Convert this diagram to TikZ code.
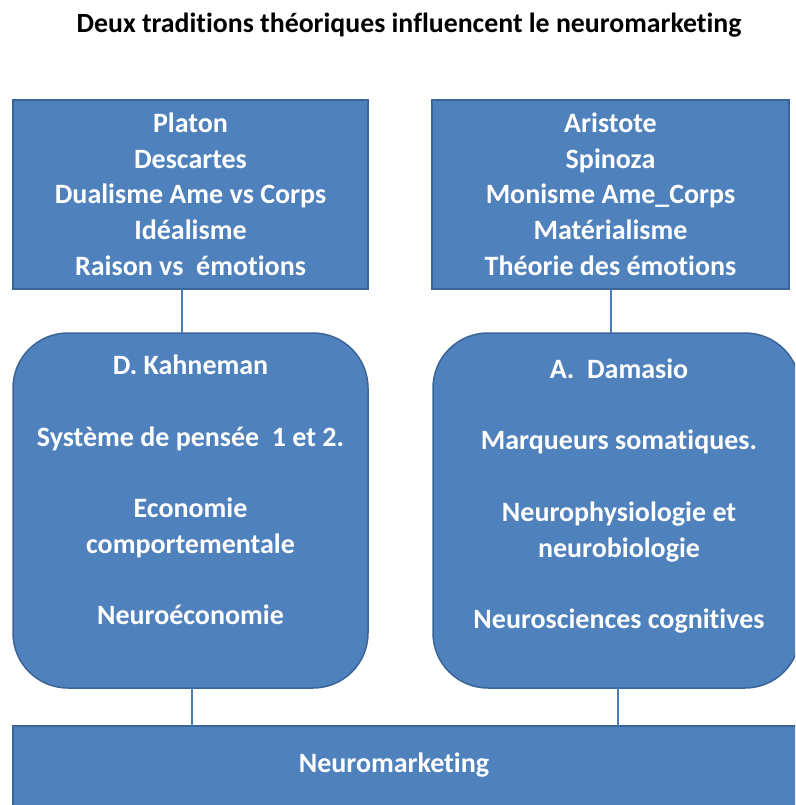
\documentclass[tikz,border=0pt]{standalone}
\usepackage{fontspec}
\setmainfont{Carlito}[Ligatures=NoCommon]
\definecolor{boxfill}{HTML}{4F81BD}
\definecolor{boxline}{HTML}{3A6596}
\definecolor{conn}{HTML}{4A7EBB}
\begin{document}
\begin{tikzpicture}[x=1pt,y=-1pt,
  every node/.style={inner sep=0pt, outer sep=0pt},
  sqbox/.style={draw=boxline, fill=boxfill, line width=1.5pt, rectangle},
  rdbox/.style={draw=boxline, fill=boxfill, line width=1.5pt, rectangle, rounded corners=55pt},
  boxtext/.style={text=white, font=\fontsize{28}{35.7}\bfseries\selectfont, align=center},
  link/.style={draw=conn, line width=2pt}]
\useasboundingbox (0,0) rectangle (795,805);
\clip (0,0) rectangle (795,805);
\fill[white] (0,0) rectangle (795,805);
% title
\node[font=\fontsize{27.8}{33}\bfseries\selectfont, text=black] (title) at (409,25) {Deux traditions théoriques influencent le neuromarketing};
% top boxes
\node[sqbox, minimum width=355pt, minimum height=189pt] (plat) at (190.5,194.5) {};
\node[boxtext] (plattxt) at (190.5,194) {Platon\\Descartes\\Dualisme Ame vs Corps\\Idéalisme\\Raison vs\ \ émotions};
\node[sqbox, minimum width=357pt, minimum height=189pt] (aris) at (610.5,194.5) {};
\node[boxtext] (aristxt) at (610.5,194) {Aristote\\Spinoza\\Monisme\ Ame\_Corps\\Matérialisme\\Théorie\ des\ émotions};
% rounded boxes
\node[rdbox, minimum width=355pt, minimum height=355pt] (kah) at (190.5,510.5) {};
\node[boxtext] (kahtxt) at (190.5,490) {D. Kahneman\\[35.7pt]Système de pensée\ \ 1 et 2.\\[35.7pt]Economie\\comportementale\\[35.7pt]Neuroéconomie};
\node[rdbox, minimum width=367pt, minimum height=355pt] (dam) at (616.5,510.5) {};
\node[boxtext] (damtxt) at (619,496) {A.\ \ Damasio\\[35.7pt]Marqueurs\ somatiques.\\[35.7pt]Neurophysiologie\ et\\neurobiologie\\[35.7pt]Neurosciences\ cognitives};
% bottom box
\node[sqbox, minimum width=800pt, minimum height=120pt, anchor=north west] (neuro) at (13,726) {};
\node[boxtext] (neurotxt) at (394,765) {Neuromarketing};
% connectors
\draw[link] (plat.south -| 182,0) -- (kah.north -| 182,0);
\draw[link] (aris.south -| 611,0) -- (dam.north -| 611,0);
\draw[link] (kah.south -| 192,0) -- (neuro.north -| 192,0);
\draw[link] (dam.south -| 618,0) -- (neuro.north -| 618,0);
\end{tikzpicture}
\end{document}
